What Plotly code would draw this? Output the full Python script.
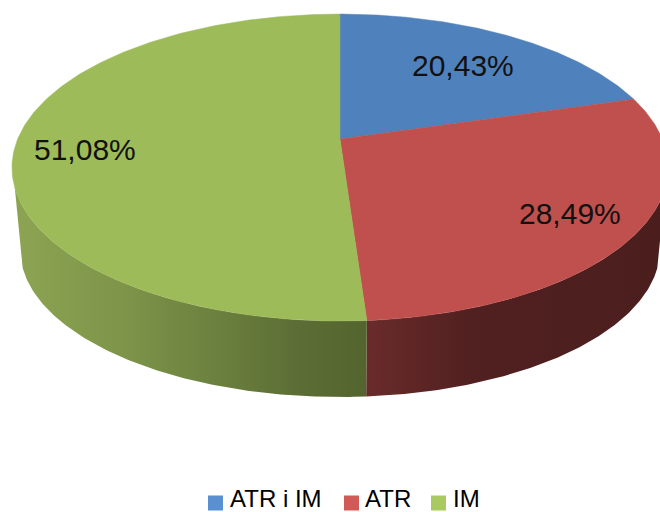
import numpy as np
import plotly.graph_objects as go

categories = ["ATR i IM", "ATR", "IM"]
values = [20.43, 28.49, 51.08]
top_colors = ["#4F81BD", "#C0504D", "#9DBB59"]
legend_colors = ["#5A8FD2", "#CF5A56", "#A9CA60"]
side_gradients = [None,
                  [[0, "#6A2B2B"], [0.35, "#512020"], [1, "#4B1E1E"]],
                  [[0, "#8CA452"], [0.3, "#7E954A"], [0.55, "#6D823F"], [0.8, "#5C6E35"], [1, "#53642E"]]]
# visible rim of each slice, degrees clockwise from the top
side_limits = [None, 108, 252]
label_pos = [(462.5, 65), (569.5, 213), (85, 149)]
legend_boxes = [215.5, 351.5, 438.5]
legend_text = [229, 364, 452]

# perspective projection of the unit disc onto the page
K, A, B, CX, CY = -0.186, 322.3, 122.3, 340.0, 139.0
CY_E, SX, SY, CY_B = 167.5, 0.9756, 0.964, 249.0


def top(theta):
    t = np.radians(theta)
    ux, uy = np.sin(t), -np.cos(t)
    d = 1 + K * uy
    return CX + A * ux / d, (B * uy + CY) / d


def bottom(theta):
    x, y = top(theta)
    return CX + (x - CX) * SX, CY_B + (y - CY_E) * SY


fig = go.Figure()
edges = np.concatenate([[0], np.cumsum(values) / np.sum(values) * 360])

for i, cat in enumerate(categories):
    if side_gradients[i] is None:
        continue
    if i == 1:
        lo, hi = side_limits[i], edges[i + 1]
    else:
        lo, hi = edges[i], side_limits[i]
    th = np.linspace(lo, hi, 120)
    tx, ty = top(th)
    bx, by = bottom(th)
    fig.add_trace(go.Scatter(
        x=np.concatenate([tx, bx[::-1]]), y=np.concatenate([ty, by[::-1]]),
        mode="lines", line=dict(width=0), fill="toself",
        fillgradient=dict(type="horizontal", colorscale=side_gradients[i]),
        hoverinfo="skip", showlegend=False))

for i, cat in enumerate(categories):
    th = np.linspace(edges[i], edges[i + 1], 200)
    x, y = top(th)
    fig.add_trace(go.Scatter(
        x=np.concatenate([[CX], x, [CX]]), y=np.concatenate([[CY], y, [CY]]),
        mode="lines", line=dict(width=0.5, color=top_colors[i]),
        fill="toself", fillcolor=top_colors[i], name=cat,
        hoverinfo="name", showlegend=False))

annotations = []
for i, v in enumerate(values):
    annotations.append(dict(
        x=label_pos[i][0], y=label_pos[i][1], xref="x", yref="y",
        text=f"{v:.2f}%".replace(".", ","), showarrow=False,
        font=dict(family="Liberation Sans", size=30, color="#111111")))

for i, cat in enumerate(categories):
    fig.add_trace(go.Scatter(
        x=[legend_boxes[i]], y=[503], mode="markers",
        marker=dict(symbol="square", size=15, color=legend_colors[i]),
        hoverinfo="skip", showlegend=False))
    annotations.append(dict(
        x=legend_text[i], y=498, xref="x", yref="y", xanchor="left", yanchor="middle",
        text=cat, showarrow=False, xshift=-1,
        font=dict(family="Liberation Sans", size=24, color="#000000")))

fig.update_layout(
    width=660, height=512, margin=dict(l=0, r=0, t=0, b=0),
    paper_bgcolor="white", plot_bgcolor="white", showlegend=False,
    xaxis=dict(range=[0, 660], visible=False, fixedrange=True),
    yaxis=dict(range=[512, 0], visible=False, fixedrange=True),
    annotations=annotations)

fig.write_html("out.html", config=dict(displayModeBar=False),
               post_script="document.body.style.margin='0';document.documentElement.style.overflow='hidden';")
